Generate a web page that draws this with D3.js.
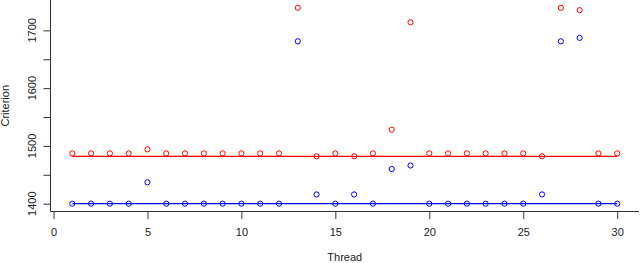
<!DOCTYPE html>
<html lang="en">
<head>
  <meta charset="UTF-8" />
  <title>Criterion by Thread</title>
  <script src="https://d3js.org/d3.v7.min.js"></script>
  <style>
    body { margin: 0; background: white; }
    svg { display: block; }
    text { font-family: "Liberation Sans", Arial, sans-serif; font-size: 11px; fill: #222; }
    .axis path { display: none; }
    .axis line { stroke: #333; }
  </style>
</head>
<body>
  <svg width="640" height="263"></svg>
  <script>
    // Thread number 1..30
    const threads = [1, 2, 3, 4, 5, 6, 7, 8, 9, 10, 11, 12, 13, 14, 15,
                     16, 17, 18, 19, 20, 21, 22, 23, 24, 25, 26, 27, 28, 29, 30];
    // red series
    const redValues = [1487, 1487, 1487, 1487, 1494, 1487, 1487, 1487, 1487, 1487,
                       1487, 1487, 1739, 1482, 1487, 1482, 1487, 1528, 1714, 1487,
                       1487, 1487, 1487, 1487, 1487, 1482, 1739, 1735, 1487, 1487];
    // blue series
    const blueValues = [1400, 1400, 1400, 1400, 1437, 1400, 1400, 1400, 1400, 1400,
                        1400, 1400, 1681, 1416, 1400, 1416, 1400, 1460, 1466, 1400,
                        1400, 1400, 1400, 1400, 1400, 1416, 1681, 1687, 1400, 1400];
    const xTicks = [0, 5, 10, 15, 20, 25, 30];
    const yTicks = [1400, 1450, 1500, 1550, 1600, 1650, 1700];
    const yLabels = [1400, 1500, 1600, 1700];

    const svg = d3.select("svg");
    const mLeft = 50.5, mRight = 639, mTop = 0, mBottom = 211.5;

    // R style: extend data range by 4% on each side
    const pad = (lo, hi) => [lo - (hi - lo) * 0.04, hi + (hi - lo) * 0.04];
    const x = d3.scaleLinear()
      .domain(pad(d3.min(threads), d3.max(threads)))
      .range([mLeft, mRight]);
    const allY = redValues.concat(blueValues);
    const y = d3.scaleLinear()
      .domain(pad(d3.min(allY), d3.max(allY)))
      .range([mBottom, mTop]);

    // box (left + bottom)
    svg.append("path")
      .attr("d", `M${mLeft},${mTop}V${mBottom}H${mRight}`)
      .attr("fill", "none")
      .attr("stroke", "#333");

    // x axis
    const xAxis = svg.append("g")
      .attr("class", "axis")
      .attr("transform", `translate(0,${mBottom + 0.5})`)
      .call(d3.axisBottom(x).tickValues(xTicks).tickSize(7).tickSizeOuter(0).tickPadding(9));
    xAxis.selectAll("text").style("font-size", "11px").attr("font-family", null);

    // y axis ticks, labels drawn rotated like R
    svg.append("g")
      .attr("class", "axis")
      .attr("transform", `translate(${mLeft},0)`)
      .call(d3.axisLeft(y).tickValues(yTicks).tickSize(7).tickSizeOuter(0).tickFormat(""));

    svg.append("g").selectAll("text")
      .data(yLabels)
      .join("text")
      .attr("transform", d => `translate(36,${y(d)}) rotate(-90)`)
      .attr("text-anchor", "middle")
      .text(d => d);

    // axis titles
    svg.append("text")
      .attr("x", (mLeft + mRight) / 2)
      .attr("y", 261)
      .attr("text-anchor", "middle")
      .text("Thread");
    svg.append("text")
      .attr("transform", `translate(9,${(mTop + mBottom) / 2}) rotate(-90)`)
      .attr("text-anchor", "middle")
      .text("Criterion");

    // series
    const series = [
      { values: redValues, color: "#ff0000" },
      { values: blueValues, color: "#0000ff" }
    ];

    series.forEach(s => {
      const minVal = d3.min(s.values);
      svg.append("line")
        .attr("x1", x(threads[0]))
        .attr("x2", x(threads[threads.length - 1]))
        .attr("y1", y(minVal))
        .attr("y2", y(minVal))
        .attr("stroke", s.color)
        .attr("stroke-width", 1.2);

      svg.append("g").selectAll("circle")
        .data(threads)
        .join("circle")
        .attr("cx", d => x(d))
        .attr("cy", (d, i) => y(s.values[i]))
        .attr("r", 2.6)
        .attr("fill", "none")
        .attr("stroke", s.color)
        .attr("stroke-width", 1);
    });
  </script>
</body>
</html>
